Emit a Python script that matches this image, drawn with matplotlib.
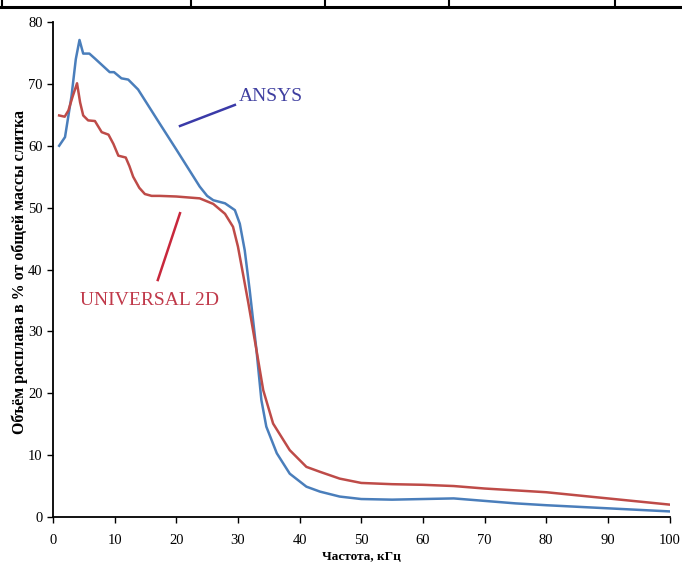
import matplotlib.pyplot as plt
from matplotlib.lines import Line2D

# ANSYS curve
ansys_x = [1, 1.95, 3, 3.7, 4.3, 4.9, 5.9, 6.8, 8, 9.2, 9.9, 11.1, 12.2, 13.8, 17.3, 20, 23.8,
           25, 26, 27.9, 29.5, 30.3, 31.1, 31.9, 33.0, 33.8, 34.6, 36.3, 38.4, 41.1, 43.3,
           46.5, 50, 55, 60, 65, 70, 75, 80, 90, 100]
ansys_y = [60, 61.4, 68, 74, 77.1, 74.9, 74.9, 74.1, 73, 71.9, 71.9, 70.9, 70.7, 69.1, 63.6, 59.4, 53.4,
           51.9, 51.2, 50.7, 49.6, 47.4, 43.1, 36.7, 27.0, 18.9, 14.6, 10.3, 7.0, 4.9, 4.1,
           3.3, 2.9, 2.8, 2.9, 3.0, 2.6, 2.2, 1.9, 1.4, 0.9]

# UNIVERSAL 2D curve
univ_x = [1, 1.9, 2.5, 3.2, 3.9, 4.4, 4.9, 5.7, 6.8, 7.9, 9.0, 9.8, 10.6, 11.8, 12.4, 13.0, 14.0,
          14.9, 16, 17.3, 20, 23.8, 26, 27.9, 29.2, 30.0, 30.8, 31.7, 33.0, 34.1, 35.7, 38.4,
          41.1, 43.3, 46.5, 50, 55, 60, 65, 70, 80, 90, 100]
univ_y = [64.9, 64.7, 65.7, 68, 70.1, 67, 64.9, 64.1, 64.0, 62.2, 61.8, 60.3, 58.4, 58.1, 56.7, 55.0, 53.2,
          52.2, 51.9, 51.9, 51.8, 51.5, 50.6, 49.0, 46.9, 43.7, 39.4, 34.5, 27.0, 20.5, 15.1, 10.8,
          8.1, 7.3, 6.2, 5.5, 5.3, 5.2, 5.0, 4.6, 4.0, 3.0, 2.0]

xticks = list(range(0, 101, 10))
yticks = list(range(0, 81, 10))

plt.rcParams['font.family'] = ['Liberation Serif', 'DejaVu Serif']

fig = plt.figure(figsize=(6.82, 5.65), dpi=100)
ax = fig.add_axes([0.0777, 0.085, 0.904, 0.876])

ax.plot(ansys_x, ansys_y, color='#4a7ebb', lw=1.8, solid_joinstyle='round')
ax.plot(univ_x, univ_y, color='#be4b48', lw=1.8, solid_joinstyle='round')

ax.set_xlim(0, 100)
ax.set_ylim(0, 80)
ax.set_xticks(xticks)
ax.set_yticks(yticks)
ax.tick_params(labelsize=10.5, length=4, width=1, direction='out')
ax.tick_params(axis='x', pad=8)
for s in ['top', 'right']:
    ax.spines[s].set_visible(False)
for s in ['left', 'bottom']:
    ax.spines[s].set_linewidth(1.3)

ax.set_xlabel('Частота, кГц', fontsize=9.5, fontweight='bold', labelpad=3)
ax.set_ylabel('Объём расплава в % от общей массы слитка', fontsize=11.5,
              fontweight='bold')
ax.yaxis.set_label_coords(-0.041, 0.495)

# annotations
ax.text(30.2, 68.0, 'ANSYS', color='#3f3fa0', fontsize=14, va='center', ha='left')
ax.plot([20.6, 29.5], [63.2, 66.6], color='#3a3aa8', lw=1.8)
ax.text(4.3, 35.0, 'UNIVERSAL 2D', color='#c0394a', fontsize=14, va='center', ha='left')
ax.plot([17.0, 20.6], [38.3, 49.1], color='#c8283c', lw=1.8)

# table rule at the top of the page
fig.add_artist(Line2D([0, 1], [1 - 7 / 565, 1 - 7 / 565], color='black', lw=2.2,
                      transform=fig.transFigure))
for px in [2, 191, 325, 449, 615]:
    fig.add_artist(Line2D([px / 682, px / 682], [1 - 7 / 565, 1], color='black', lw=1.5,
                          transform=fig.transFigure))

fig.savefig('out.png', dpi=100)
